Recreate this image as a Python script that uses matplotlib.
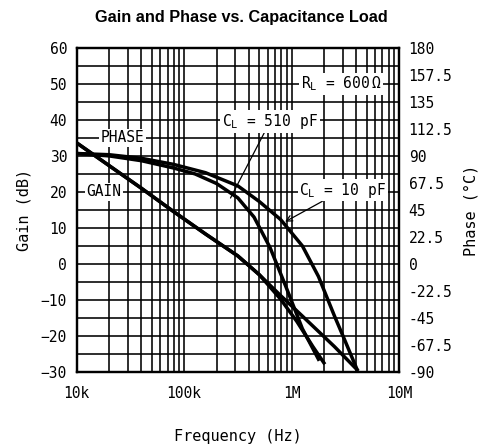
import matplotlib
matplotlib.use("Agg")
import matplotlib.pyplot as plt
import numpy as np
from matplotlib.ticker import FixedLocator, NullFormatter

# values (frequency in Hz, gain in dB, phase in degrees)
gain_10pf_f = [1e4, 2e4, 4e4, 7.9e4, 1.58e5, 3.16e5, 5e5, 7.9e5, 1.26e6, 2.51e6, 4.07e6]
gain_10pf_db = [33.6, 27.3, 21.0, 14.6, 8.3, 2.2, -3.0, -8.8, -14.5, -23.0, -29.4]

gain_510pf_f = [1e4, 2e4, 4e4, 7.9e4, 1.58e5, 3.16e5, 5e5, 7.9e5, 1.12e6, 1.58e6, 2.0e6]
gain_510pf_db = [33.6, 27.3, 21.0, 14.6, 8.3, 2.2, -3.0, -9.8, -16.0, -23.0, -27.5]

phase_510pf_f = [1e4, 2e4, 4e4, 7.9e4, 1.26e5, 2e5, 3.16e5, 4.47e5, 6.31e5, 8.9e5, 1.26e6, 1.78e6]
phase_510pf_deg = [92, 90, 86, 80, 75, 67, 55, 39, 13.5, -19.5, -54, -79.5]

phase_10pf_f = [1e4, 2e4, 4e4, 7.9e4, 1.58e5, 3.16e5, 5e5, 7.9e5, 1.26e6, 1.78e6, 2.51e6, 3.16e6, 4.07e6]
phase_10pf_deg = [92, 91, 88, 83, 76, 65, 52, 37, 15, -10.5, -43.5, -64.5, -88]

gain_ticks = [60, 50, 40, 30, 20, 10, 0, -10, -20, -30]
phase_ticks = [180, 157.5, 135, 112.5, 90, 67.5, 45, 22.5, 0, -22.5, -45, -67.5, -90]
freq_ticks = [1e4, 1e5, 1e6, 1e7]
freq_labels = ["10k", "100k", "1M", "10M"]

plt.rcParams["font.family"] = ["DejaVu Sans Mono", "DejaVu Sans"]
plt.rcParams["mathtext.fontset"] = "custom"
plt.rcParams["mathtext.rm"] = "DejaVu Sans Mono"

fig = plt.figure(figsize=(4.83, 4.48), dpi=100)
ax = fig.add_axes([0.159, 0.170, 0.667, 0.723])

ax.set_xscale("log")
ax.set_xlim(1e4, 1e7)
ax.set_ylim(-30, 60)

# grid: every 5 dB horizontally, 1..9 per decade vertically
minor_x = [m * 10 ** d for d in range(4, 7) for m in range(1, 10)] + [1e7]
ax.xaxis.set_major_locator(FixedLocator(freq_ticks))
ax.xaxis.set_minor_locator(FixedLocator(minor_x))
ax.xaxis.set_minor_formatter(NullFormatter())
ax.set_xticklabels(freq_labels)
ax.yaxis.set_major_locator(FixedLocator(gain_ticks))
ax.yaxis.set_minor_locator(FixedLocator(list(np.arange(-30, 61, 5))))
ax.grid(True, which="both", color="black", lw=1.15, zorder=0)
ax.set_axisbelow(True)
for s in ax.spines.values():
    s.set_linewidth(1.6)
ax.tick_params(which="both", length=0, labelsize=10.5, pad=7)
ax.tick_params(axis="x", pad=10)

ax.plot(gain_10pf_f, gain_10pf_db, color="black", lw=2.5, zorder=3)
ax.plot(gain_510pf_f, gain_510pf_db, color="black", lw=2.5, zorder=3)

ax2 = ax.twinx()
ax2.set_ylim(-90, 180)
ax2.yaxis.set_major_locator(FixedLocator(phase_ticks))
ax2.set_yticklabels(["%g" % t for t in phase_ticks])
ax2.tick_params(length=0, labelsize=10.5, pad=7)
for s in ax2.spines.values():
    s.set_linewidth(1.6)
ax2.plot(phase_510pf_f, phase_510pf_deg, color="black", lw=2.5, zorder=3)
ax2.plot(phase_10pf_f, phase_10pf_deg, color="black", lw=2.5, zorder=3)

box = dict(boxstyle="square,pad=0.12", fc="white", ec="none")
ax.text(2.65e4, 35, "PHASE", fontsize=10.5, ha="center", va="center", bbox=box, zorder=4)
ax.text(1.8e4, 20, "GAIN", fontsize=10.5, ha="center", va="center", bbox=box, zorder=4)
ax.text(2.9e6, 50, r"R$_\mathregular{L}$ = 600$\,\Omega$", fontsize=10.5,
        ha="center", va="center", bbox=box, zorder=4)
ax.annotate("C$_\\mathregular{L}$ = 510 pF", xy=(2.7e5, 18.3), xytext=(6.3e5, 39.5),
            fontsize=10.5, ha="center", va="center", bbox=box, zorder=4,
            arrowprops=dict(arrowstyle="-", color="black", lw=0.9,
                            shrinkA=0, shrinkB=0))
ax.annotate("C$_\\mathregular{L}$ = 10 pF", xy=(8.7e5, 11.7), xytext=(3.0e6, 20.5),
            fontsize=10.5, ha="center", va="center", bbox=box, zorder=4,
            arrowprops=dict(arrowstyle="->", color="black", lw=0.9,
                            shrinkA=0, shrinkB=0))

ax.set_xlabel("Frequency (Hz)", fontsize=11, labelpad=20)
ax.set_ylabel("Gain (dB)", fontsize=11, labelpad=7)
ax2.set_ylabel("Phase (°C)", fontsize=11, labelpad=8)
fig.text(0.5, 0.96, "Gain and Phase vs. Capacitance Load", ha="center", va="center",
         fontsize=11.7, fontweight="bold", family="Liberation Sans")

fig.savefig("out.png", dpi=100)
